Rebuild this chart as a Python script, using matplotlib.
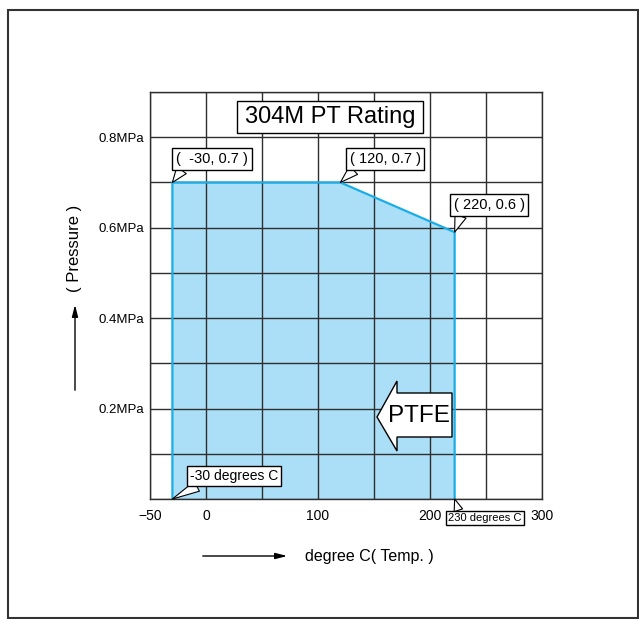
import matplotlib
matplotlib.use("Agg")
import matplotlib.pyplot as plt
from matplotlib.patches import Rectangle, Polygon, FancyArrowPatch

plt.rcParams['font.family'] = ['Liberation Sans', 'DejaVu Sans']

# ---- data ----
temps = [-30, -30, 120, 222, 222]
pressures = [0.0, 0.7, 0.7, 0.59, 0.0]
xtick_vals = [-50, 0, 100, 200, 300]
xtick_labels = ['\u221250', '0', '100', '200', '300']
ytick_vals = [0.2, 0.4, 0.6, 0.8]
ytick_labels = ['0.2MPa', '0.4MPa', '0.6MPa', '0.8MPa']
callout_texts = ['(  -30, 0.7 )', '( 120, 0.7 )', '( 220, 0.6 )']
callout_points = [(-30, 0.7), (120, 0.7), (222, 0.59)]
title_text = '304M PT Rating'
material_text = 'PTFE'
xlabel_text = 'degree C( Temp. )'
ylabel_text = '( Pressure )'
low_text = '-30 degrees C'
high_text = '230 degrees C'

W, H = 639, 619
fig = plt.figure(figsize=(W / 100, H / 100), dpi=100)

# axes placement (pixels)
L, R, T, B = 150, 542, 92, 499
ax = fig.add_axes([L / W, 1 - B / H, (R - L) / W, (B - T) / H])
ax.set_xlim(-50, 300)
ax.set_ylim(0, 0.9)

def ax_px(px, py):
    return ((px - L) / (R - L), (B - py) / (B - T))

# grid
gcol = '#2e2e2e'
for gx in range(-50, 301, 50):
    ax.axvline(gx, color=gcol, lw=1.0, zorder=2)
for i in range(0, 10):
    ax.axhline(i * 0.1, color=gcol, lw=1.0, zorder=2)

# fill
ax.fill(temps, pressures, color='#abdff8', lw=0, zorder=1)
ax.plot(temps, pressures, color='#19aee8', lw=1.6, zorder=3)

for s in ax.spines.values():
    s.set_color(gcol)
    s.set_linewidth(1.0)
    s.set_zorder(4)

ax.set_xticks(xtick_vals)
ax.set_xticklabels(xtick_labels, fontsize=10)
ax.set_yticks(ytick_vals)
ax.set_yticklabels(ytick_labels, fontsize=9.5)
ax.tick_params(axis='x', length=0, pad=7)
ax.tick_params(axis='y', length=0, pad=4)

# title box
x0, y0 = ax_px(237, 133)
x1, y1 = ax_px(423, 101)
ax.add_patch(Rectangle((x0, y0), x1 - x0, y1 - y0, transform=ax.transAxes,
                       fc='white', ec='black', lw=1.0, zorder=5))
tx, ty = ax_px(330, 117)
ax.text(tx, ty, title_text, transform=ax.transAxes, ha='center', va='center',
        fontsize=17, zorder=6)

# callouts
box_centers = [(212, 159), (385, 159), (489, 205)]
for txt, pt, (cx, cy) in zip(callout_texts, callout_points, box_centers):
    ax.annotate(txt, xy=pt, xycoords='data',
                xytext=ax_px(cx, cy), textcoords='axes fraction',
                ha='center', va='center', fontsize=10.5, zorder=6,
                bbox=dict(boxstyle='square,pad=0.25', fc='white', ec='black', lw=1.0),
                arrowprops=dict(arrowstyle='wedge,tail_width=0.8', fc='white',
                                ec='black', lw=0.8, relpos=(0.12, 0.0),
                                shrinkA=0, shrinkB=0))

ax.annotate(low_text, xy=(temps[0], 0), xycoords='data',
            xytext=ax_px(234, 476), textcoords='axes fraction',
            ha='center', va='center', fontsize=10, zorder=6,
            bbox=dict(boxstyle='square,pad=0.2', fc='white', ec='black', lw=1.0),
            arrowprops=dict(arrowstyle='wedge,tail_width=0.8', fc='white',
                            ec='black', lw=0.8, relpos=(0.15, 0.0),
                            shrinkA=0, shrinkB=0))
ax.annotate(high_text, xy=(temps[-1], 0), xycoords='data',
            xytext=ax_px(485, 518), textcoords='axes fraction',
            ha='center', va='center', fontsize=8, zorder=6,
            annotation_clip=False,
            bbox=dict(boxstyle='square,pad=0.2', fc='white', ec='black', lw=1.0),
            arrowprops=dict(arrowstyle='wedge,tail_width=0.8', fc='white',
                            ec='black', lw=0.8, relpos=(0.15, 1.0),
                            shrinkA=0, shrinkB=0))

# PTFE block arrow
arrow_px = [(377, 417), (397, 381), (397, 393), (452, 393), (452, 437),
            (397, 437), (397, 451)]
ax.add_patch(Polygon([ax_px(*p) for p in arrow_px], closed=True,
                     transform=ax.transAxes, fc='white', ec='black', lw=1.0,
                     zorder=5))
px_, py_ = ax_px(419, 416)
ax.text(px_, py_, material_text, transform=ax.transAxes, ha='center',
        va='center', fontsize=17.5, zorder=6)

# axis labels with arrows (figure coords)
fig.text(75 / W, 1 - 248 / H, ylabel_text, rotation=90, ha='center',
         va='center', fontsize=12)
fig.add_artist(FancyArrowPatch(
    (75 / W, 1 - 393 / H), (75 / W, 1 - 302 / H), transform=fig.transFigure,
    arrowstyle='-|>,head_length=7,head_width=1.8', color='black', lw=1.0))
fig.text(305 / W, 1 - 556 / H, xlabel_text, ha='left', va='center', fontsize=11.5)
fig.add_artist(FancyArrowPatch(
    (200 / W, 1 - 556 / H), (290 / W, 1 - 556 / H), transform=fig.transFigure,
    arrowstyle='-|>,head_length=7,head_width=1.8', color='black', lw=1.0))

# outer frame
fig.add_artist(Rectangle((8 / W, 1 - 618 / H), (638 - 8) / W, (618 - 10) / H,
                         transform=fig.transFigure, fill=False, ec='#333333',
                         lw=1.5))

fig.savefig('out.png', dpi=100)
